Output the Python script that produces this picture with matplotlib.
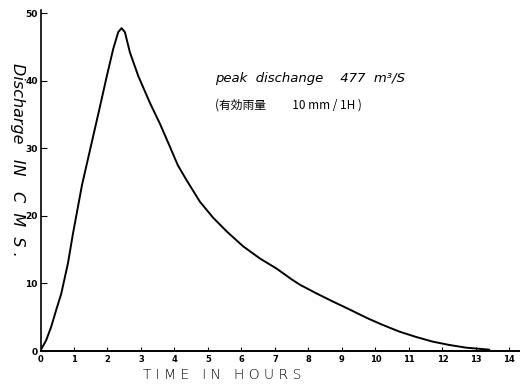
import numpy as np
import matplotlib.pyplot as plt

# hydrograph (hours, m3/s)
hours = [0.0, 0.02, 0.17, 0.32, 0.47, 0.62, 0.70, 0.82, 0.97, 1.12, 1.24,
         1.48, 1.73, 1.98, 2.17, 2.32, 2.42, 2.52, 2.67, 2.92, 3.27, 3.57,
         3.85, 4.1, 4.36, 4.76, 5.16, 5.56, 6.05, 6.55, 7.05, 7.5, 7.75,
         8.25, 8.74, 9.25, 9.74, 10.2, 10.7, 11.2, 11.7, 12.2, 12.7, 13.4]
discharge = [0.0, 0.25, 1.6, 3.6, 6.1, 8.5, 10.3, 13.0, 17.4, 21.4, 24.6,
             29.8, 35.2, 40.7, 44.7, 47.2, 47.8, 47.2, 44.2, 40.7, 36.7, 33.6,
             30.4, 27.5, 25.3, 22.1, 19.7, 17.7, 15.5, 13.7, 12.2, 10.6, 9.8,
             8.5, 7.3, 6.1, 4.9, 3.9, 2.9, 2.1, 1.4, 0.9, 0.5, 0.2]

x_ticks = list(range(0, 15))
y_ticks = [0, 10, 20, 30, 40, 50]

fig = plt.figure(figsize=(5.24, 3.85), dpi=100)
ax = fig.add_axes([0.0773, 0.0883, 0.914, 0.886])

ax.plot(hours, discharge, color='black', linewidth=1.4,
        solid_capstyle='round', solid_joinstyle='round')

ax.set_xlim(0, 14.3)
ax.set_ylim(0, 50.5)

ax.spines['top'].set_visible(False)
ax.spines['right'].set_visible(False)
ax.spines['left'].set_linewidth(1.2)
ax.spines['bottom'].set_linewidth(1.4)

ax.set_xticks(x_ticks)
ax.set_yticks(y_ticks)
ax.set_xticklabels([str(t) for t in x_ticks], fontsize=6, fontweight='bold')
ax.set_yticklabels([str(v) for v in y_ticks], fontsize=6.5, fontweight='bold')
ax.tick_params(axis='x', direction='in', length=3, width=0.8, pad=3)
ax.tick_params(axis='y', direction='in', length=4, width=0.8, pad=2)

# axis titles
fig.text(0.424, 0.027, 'T I M E   I N   H O U R S', fontsize=10, ha='center',
         va='center', fontweight='light')
fig.text(0.033, 0.585, 'Discharge   IN   C  M  S .', fontsize=11.5,
         rotation=-90, ha='center', va='center', style='italic',
         fontweight='light')

# annotations
ax.text(5.2, 40.3, 'peak  dischange    477  m³/S', fontsize=9.5,
        style='italic', ha='left', va='center')
ax.text(5.2, 36.4, '(有効雨量          10 mm / 1H )', fontsize=8.5, ha='left',
        va='center', family=['Noto Sans CJK JP', 'DejaVu Sans'])

fig.savefig('out.png', dpi=100)
